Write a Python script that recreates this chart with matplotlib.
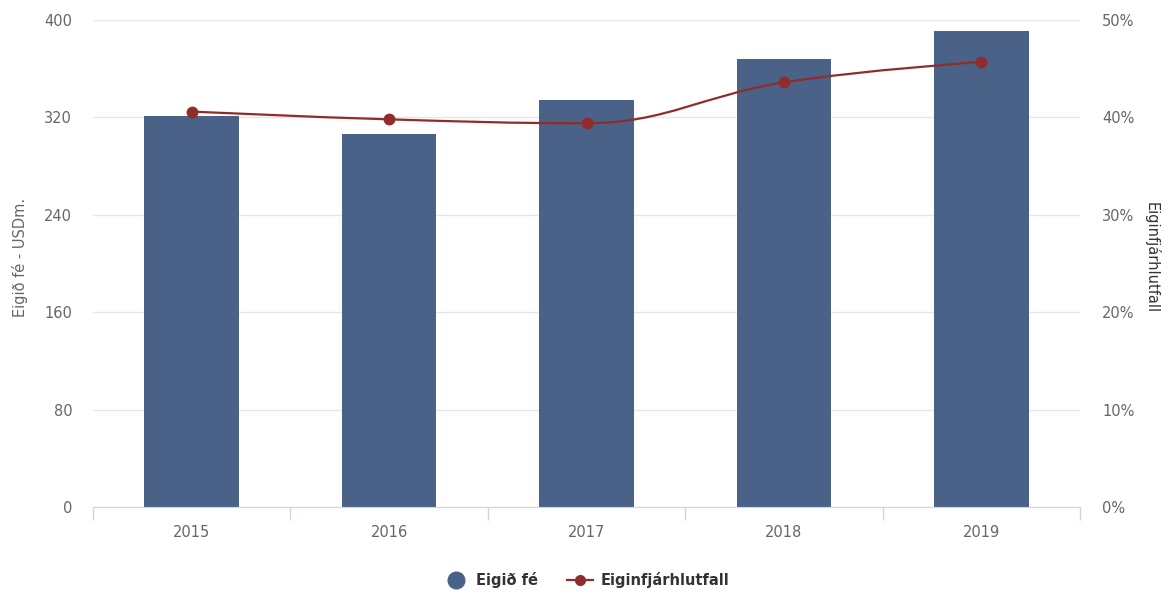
import matplotlib
matplotlib.use("Agg")
import matplotlib.pyplot as plt
from matplotlib.path import Path
from matplotlib.patches import PathPatch
from matplotlib.lines import Line2D

plt.rcParams['font.family'] = ['DejaVu Sans']

years = ["2015", "2016", "2017", "2018", "2019"]
equity = [321, 306, 334, 368, 391]          # Eigið fé - USDm.
ratio = [40.6, 39.8, 39.4, 43.6, 45.7]      # Eiginfjárhlutfall, %

bar_color = "#4a6288"
line_color = "#922b2b"
text_color = "#666666"
fs = 10.5

fig = plt.figure(figsize=(11.74, 5.99), dpi=100)
ax = fig.add_axes([93/1174, 92/599, (1080-93)/1174, (507-20)/599])
ax2 = ax.twinx()

x = list(range(len(years)))
ax.bar(x, equity, width=0.48, color=bar_color, zorder=2)
ax.set_xlim(-0.5, len(years)-0.5)
ax.set_ylim(0, 400)
ax.set_yticks([0, 80, 160, 240, 320, 400])
ax.grid(axis='y', color='#e6e6e6', linewidth=1, zorder=0)
ax.set_axisbelow(True)
for s in ['top', 'left', 'right']:
    ax.spines[s].set_visible(False)
    ax2.spines[s].set_visible(False)
ax.spines['bottom'].set_color('#ccd6eb')
ax2.spines['bottom'].set_visible(False)

ax.set_xticks(x)
ax.set_xticklabels(years)
ax.set_xticks([i - 0.5 for i in range(len(years)+1)], minor=True)
ax.tick_params(axis='x', which='major', length=0, pad=13, labelsize=fs, labelcolor=text_color)
ax.tick_params(axis='x', which='minor', length=9, color='#ccd6eb', width=1)
ax.tick_params(axis='y', length=0, pad=15, labelsize=fs, labelcolor=text_color)

ax2.set_ylim(0, 50)
ax2.set_yticks([0, 10, 20, 30, 40, 50])
ax2.set_yticklabels([f"{v}%" for v in [0, 10, 20, 30, 40, 50]])
ax2.tick_params(axis='y', length=0, pad=16, labelsize=fs, labelcolor=text_color)

# Highcharts-style spline through the data points
sm, den = 1.5, 2.5
n = len(x)
lc = [None]*n
rc = [None]*n
for i in range(n):
    px, py = x[i], ratio[i]
    if 0 < i < n-1:
        lx, ly = x[i-1], ratio[i-1]
        nx, ny = x[i+1], ratio[i+1]
        lcx = (sm*px + lx)/den; lcy = (sm*py + ly)/den
        rcx = (sm*px + nx)/den; rcy = (sm*py + ny)/den
        corr = ((rcy - lcy)*(rcx - px))/(rcx - lcx) + py - rcy
        lcy += corr; rcy += corr
        if lcy > ly and lcy > py:
            lcy = max(ly, py); rcy = 2*py - lcy
        elif lcy < ly and lcy < py:
            lcy = min(ly, py); rcy = 2*py - lcy
        if rcy > ny and rcy > py:
            rcy = max(ny, py); lcy = 2*py - rcy
        elif rcy < ny and rcy < py:
            rcy = min(ny, py); lcy = 2*py - rcy
        lc[i] = (lcx, lcy); rc[i] = (rcx, rcy)
    else:
        lc[i] = (px, py); rc[i] = (px, py)
verts = [(x[0], ratio[0])]
codes = [Path.MOVETO]
for i in range(1, n):
    verts += [rc[i-1], lc[i], (x[i], ratio[i])]
    codes += [Path.CURVE4]*3
ax2.add_patch(PathPatch(Path(verts, codes), facecolor='none', edgecolor=line_color, lw=1.6, zorder=3))
ax2.plot(x, ratio, linestyle='none', marker='o', markersize=7.5, color=line_color, zorder=4)

fig.text(20/1174, 1-257/599, "Eigið fé - USDm.", color=text_color, fontsize=fs,
         rotation=90, ha='center', va='center')
fig.text(1152/1174, 1-258/599, "Eiginfjárhlutfall", color='#333333', fontsize=fs,
         rotation=-90, ha='center', va='center')

handles = [
    Line2D([], [], linestyle='none', marker='o', markersize=12, color=bar_color),
    Line2D([], [], color=line_color, lw=1.6, marker='o', markersize=7),
]
leg = fig.legend(handles, ["Eigið fé", "Eiginfjárhlutfall"], loc='center', bbox_to_anchor=(586/1174, 1-580/599),
                 ncol=2, frameon=False, fontsize=fs, handlelength=1.8, columnspacing=2.0, handletextpad=0.5)
for t in leg.get_texts():
    t.set_color('#333333'); t.set_fontweight('bold')

fig.savefig("out.png", dpi=100)
